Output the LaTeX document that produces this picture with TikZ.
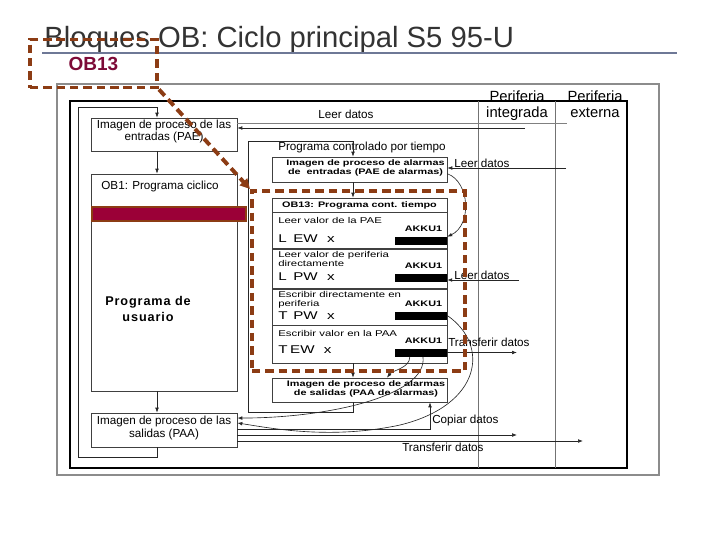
\documentclass[tikz,border=0pt]{standalone}
\usepackage{fontspec}
\setmainfont{Liberation Sans}
\newfontfamily\widesf[FakeStretch=1.35]{Liberation Sans}
\newfontfamily\spacedsf[LetterSpace=7]{Liberation Sans}
\usepackage{xcolor}
\definecolor{hibrown}{RGB}{140,60,20}
\definecolor{tagred}{RGB}{125,10,55}
\definecolor{barred}{RGB}{155,0,55}
\definecolor{slate}{RGB}{110,120,150}
\usepackage{tikz}
\usetikzlibrary{arrows.meta, positioning}

\newcommand{\instr}[5]{\makebox[#1][l]{#2}\makebox[#3][l]{#4}#5}

\begin{document}
\begin{tikzpicture}[
  x=0.025cm, y=-0.025cm,
  font=\fontsize{8.3}{8.5}\selectfont,
  box/.style={rectangle, draw=black!75, line width=0.5pt, fill=white,
              inner sep=0pt},
  secbox/.style={box, minimum width=4.375cm},
  boxtxt/.style={inner sep=0pt, align=center},
  lbl/.style={inner sep=0pt, anchor=west},
  alarmtxt/.style={inner sep=0pt, align=center,
                   font=\widesf\bfseries\fontsize{5.7}{6.4}\selectfont},
  small13/.style={inner sep=0pt, anchor=west, align=left,
                  font=\widesf\fontsize{6}{6.4}\selectfont},
  instr13/.style={inner sep=0pt, anchor=west,
                  font=\widesf\fontsize{8}{8}\selectfont},
  akku/.style={inner sep=0pt, font=\widesf\bfseries\fontsize{5.7}{6}\selectfont},
  akkubar/.style={rectangle, fill=black, inner sep=0pt,
                  minimum width=1.3cm, minimum height=0.2cm},
  arr/.style={draw=black!85, line width=0.45pt,
              -{Latex[length=3.5pt,width=2.6pt]}},
  hilite/.style={draw=hibrown, line width=2.8pt,
                 dash pattern=on 6pt off 3.5pt},
]
\useasboundingbox (0,0) rectangle (720,540);

%% --- titulo ---
\node[anchor=base west, inner sep=0pt, text=black!80,
      font=\fontsize{20.8}{24}\selectfont] (title) at (44,47)
  {Bloques OB: Ciclo principal S5 95-U};
\draw[slate, line width=2pt] (42,53) -- (677,53);

%% --- marcos y columnas de periferia ---
\draw[black!45, line width=1pt] (57,84) rectangle (659,475);
\draw[black, line width=1.3pt] (70,101) rectangle (627,468);
\draw[black!55, line width=0.6pt] (478,101) -- (478,468);
\draw[black!55, line width=0.6pt] (555,101) -- (555,468);

\node[boxtxt, font=\fontsize{10.5}{11.4}\selectfont] (perint) at (517,106)
  {Periferia\\integrada};
\node[boxtxt, font=\fontsize{10.5}{11.4}\selectfont] (perext) at (595,104.5)
  {Periferia\\externa};

%% --- ciclo principal (OB1) ---
\node[box, minimum width=3.65cm, minimum height=0.825cm] (pae) at (164,134.5) {};
\node[boxtxt, font=\fontsize{8.3}{7.9}\selectfont] (paetxt) at (164,131.5)
  {Imagen de proceso de las\\entradas (PAE)};

\node[box, minimum width=3.65cm, minimum height=5.425cm] (ob1) at (164,282.5) {};
\node[boxtxt] (ob1txt) at (160,186) {OB1: Programa ciclico};
\node[box, fill=barred, draw=hibrown, line width=0.8pt,
      minimum width=3.85cm, minimum height=0.35cm] (userbar) at (169,214) {};
\node[boxtxt, font=\spacedsf\bfseries\fontsize{9}{11.4}\selectfont] (usrtxt)
  at (148,309) {Programa de\\usuario};

\node[box, minimum width=3.65cm, minimum height=0.85cm] (paa) at (164,430) {};
\node[boxtxt, font=\fontsize{8.3}{9.2}\selectfont] (paatxt) at (164,427.5)
  {Imagen de proceso de las\\salidas (PAA)};

\coordinate (mainx) at (157,0);
\draw[arr] (pae.south -| mainx) -- (ob1.north -| mainx);
\draw[arr] (ob1.south -| mainx) -- (paa.north -| mainx);
\draw[arr] (paa.south -| mainx) -- ++(0,10) -| (78,107) -| (pae.north -| mainx);

%% --- programa controlado por tiempo (OB13) ---
\node[box, minimum width=4.375cm, minimum height=0.625cm] (paealarm)
  at (359.5,169.5) {};
\node[alarmtxt] (paealtxt) at (365.5,167.5)
  {Imagen de proceso de alarmas\\de~~entradas (PAE de alarmas)};

\node[secbox, minimum height=0.35cm,
      font=\widesf\bfseries\fontsize{5.7}{6}\selectfont] (hdr13)
  at (359.5,205) {OB13: Programa cont. tiempo};
\node[secbox, minimum height=0.9cm, below=0pt of hdr13] (sec1) {};
\node[secbox, minimum height=0.975cm, below=0pt of sec1] (sec2) {};
\node[secbox, minimum height=0.9cm, below=0pt of sec2] (sec3) {};
\node[secbox, minimum height=0.925cm, below=0pt of sec3] (sec4) {};

\node[akkubar] (bar1) at (421,241) {};
\node[akkubar] (bar2) at (421,278) {};
\node[akkubar] (bar3) at (421,315.5) {};
\node[akkubar] (bar4) at (421,352.5) {};

\node[small13] (t1) at (278,220) {Leer valor de la PAE};
\node[instr13] (i1) at (278,239) {\instr{10.7pt}{L}{24pt}{EW}{x}};
\node[akku] (k1) at (423.5,229) {AKKU1};

\node[small13] (t2) at (278,258.5) {Leer valor de periferia\\directamente};
\node[instr13] (i2) at (278,277) {\instr{10.7pt}{L}{24pt}{PW}{x}};
\node[akku] (k2) at (423.5,266) {AKKU1};

\node[small13] (t3) at (278,299.5) {Escribir directamente en\\periferia};
\node[instr13] (i3) at (278,316) {\instr{10.7pt}{T}{24pt}{PW}{x}};
\node[akku] (k3) at (423.5,304) {AKKU1};

\node[small13] (t4) at (278,333) {Escribir valor en la PAA};
\node[instr13] (i4) at (278,350) {\instr{8.5pt}{T}{24pt}{EW}{x}};
\node[akku] (k4) at (423.5,341) {AKKU1};

\node[box, minimum width=4.375cm, minimum height=0.6cm] (paaalarm)
  at (359.5,390) {};
\node[alarmtxt] (paaaltxt) at (366,388.5)
  {Imagen de proceso de alarmas\\de salidas (PAA de alarmas)};

\node[boxtxt] (tprog) at (362,147) {Programa controlado por tiempo};

\coordinate (timex) at (353,0);
\draw[arr] (paealarm.south -| timex) -- (hdr13.north -| timex);
\draw[arr] (sec4.south -| timex) -- (paaalarm.north -| timex);
\draw[arr] (paaalarm.south -| timex) -- ++(0,10) -| (248,141)
  -| (paealarm.north -| timex);

%% --- intercambio con la periferia ---
\coordinate (rdpae) at (525,128);
\coordinate (rdpaeb) at (567,123);
\coordinate (rdal) at (566,168);
\coordinate (rdpw) at (519,280);
\coordinate (wrpaa) at (517,352);
\coordinate (wrint) at (517,435);
\coordinate (wrext) at (583,441);
\coordinate (copyx) at (430,429);

\draw[black!50, line width=0.6pt] (pae.east |- rdpaeb) -- (rdpaeb);
\draw[arr] (rdpae) -- (pae.east |- rdpae);
\node[boxtxt] (rdtop) at (346,114) {Leer datos};

\draw[arr] (rdal) -- (paealarm.east |- rdal);
\node[lbl] (rdaltxt) at (454,163) {Leer datos};

\draw[arr] (rdpw) -- (bar2.east |- rdpw);
\node[lbl] (rdpwtxt) at (454,275) {Leer datos};

\draw[arr] (bar4.east) -- (bar4.east -| wrpaa);
\node[lbl] (wrpaatxt) at (448,342) {Transferir datos};

\draw[arr] (paa.east |- copyx) -| (paaalarm.south -| copyx);
\node[lbl] (copytxt) at (432,420) {Copiar datos};
\draw[arr] (paa.east |- wrint) -- (wrint);
\draw[arr] (paa.east |- wrext) -- (wrext);
\node[lbl] (wrexttxt) at (402,447) {Transferir datos};

%% --- curvas ---
\draw[arr] ([yshift=-3pt]paealarm.east) .. controls (470,182) and (472,225)
  .. (bar1.north east);
\draw[arr] (bar3.east) .. controls (490,345) and (482,405) .. (400,425)
  .. controls (330,440) and (270,428) .. ([yshift=5pt]paa.east);
\draw[arr] ([xshift=1.4pt]bar4.south) .. controls (428,395) and (330,418)
  .. ([yshift=8.5pt]paa.east);
\draw[arr] ([xshift=-8pt]bar4.south) .. controls (410,368) and (393,370)
  .. ([xshift=19.5pt]paaalarm.north);

%% --- resaltado OB13 ---
\node[hilite, minimum width=5.325cm, minimum height=4.5cm, inner sep=0pt]
  (frame13) at (358.5,281) {};
\node[hilite, minimum width=3.175cm, minimum height=1.2cm, inner sep=0pt,
      text=tagred, font=\bfseries\fontsize{13.5}{14}\selectfont] (tag)
  at (93.5,63.5) {OB13};
\draw[hilite, -{Triangle[length=7pt,width=7pt]}] (tag.south east)
  -- (frame13.north west);
\end{tikzpicture}
\end{document}
